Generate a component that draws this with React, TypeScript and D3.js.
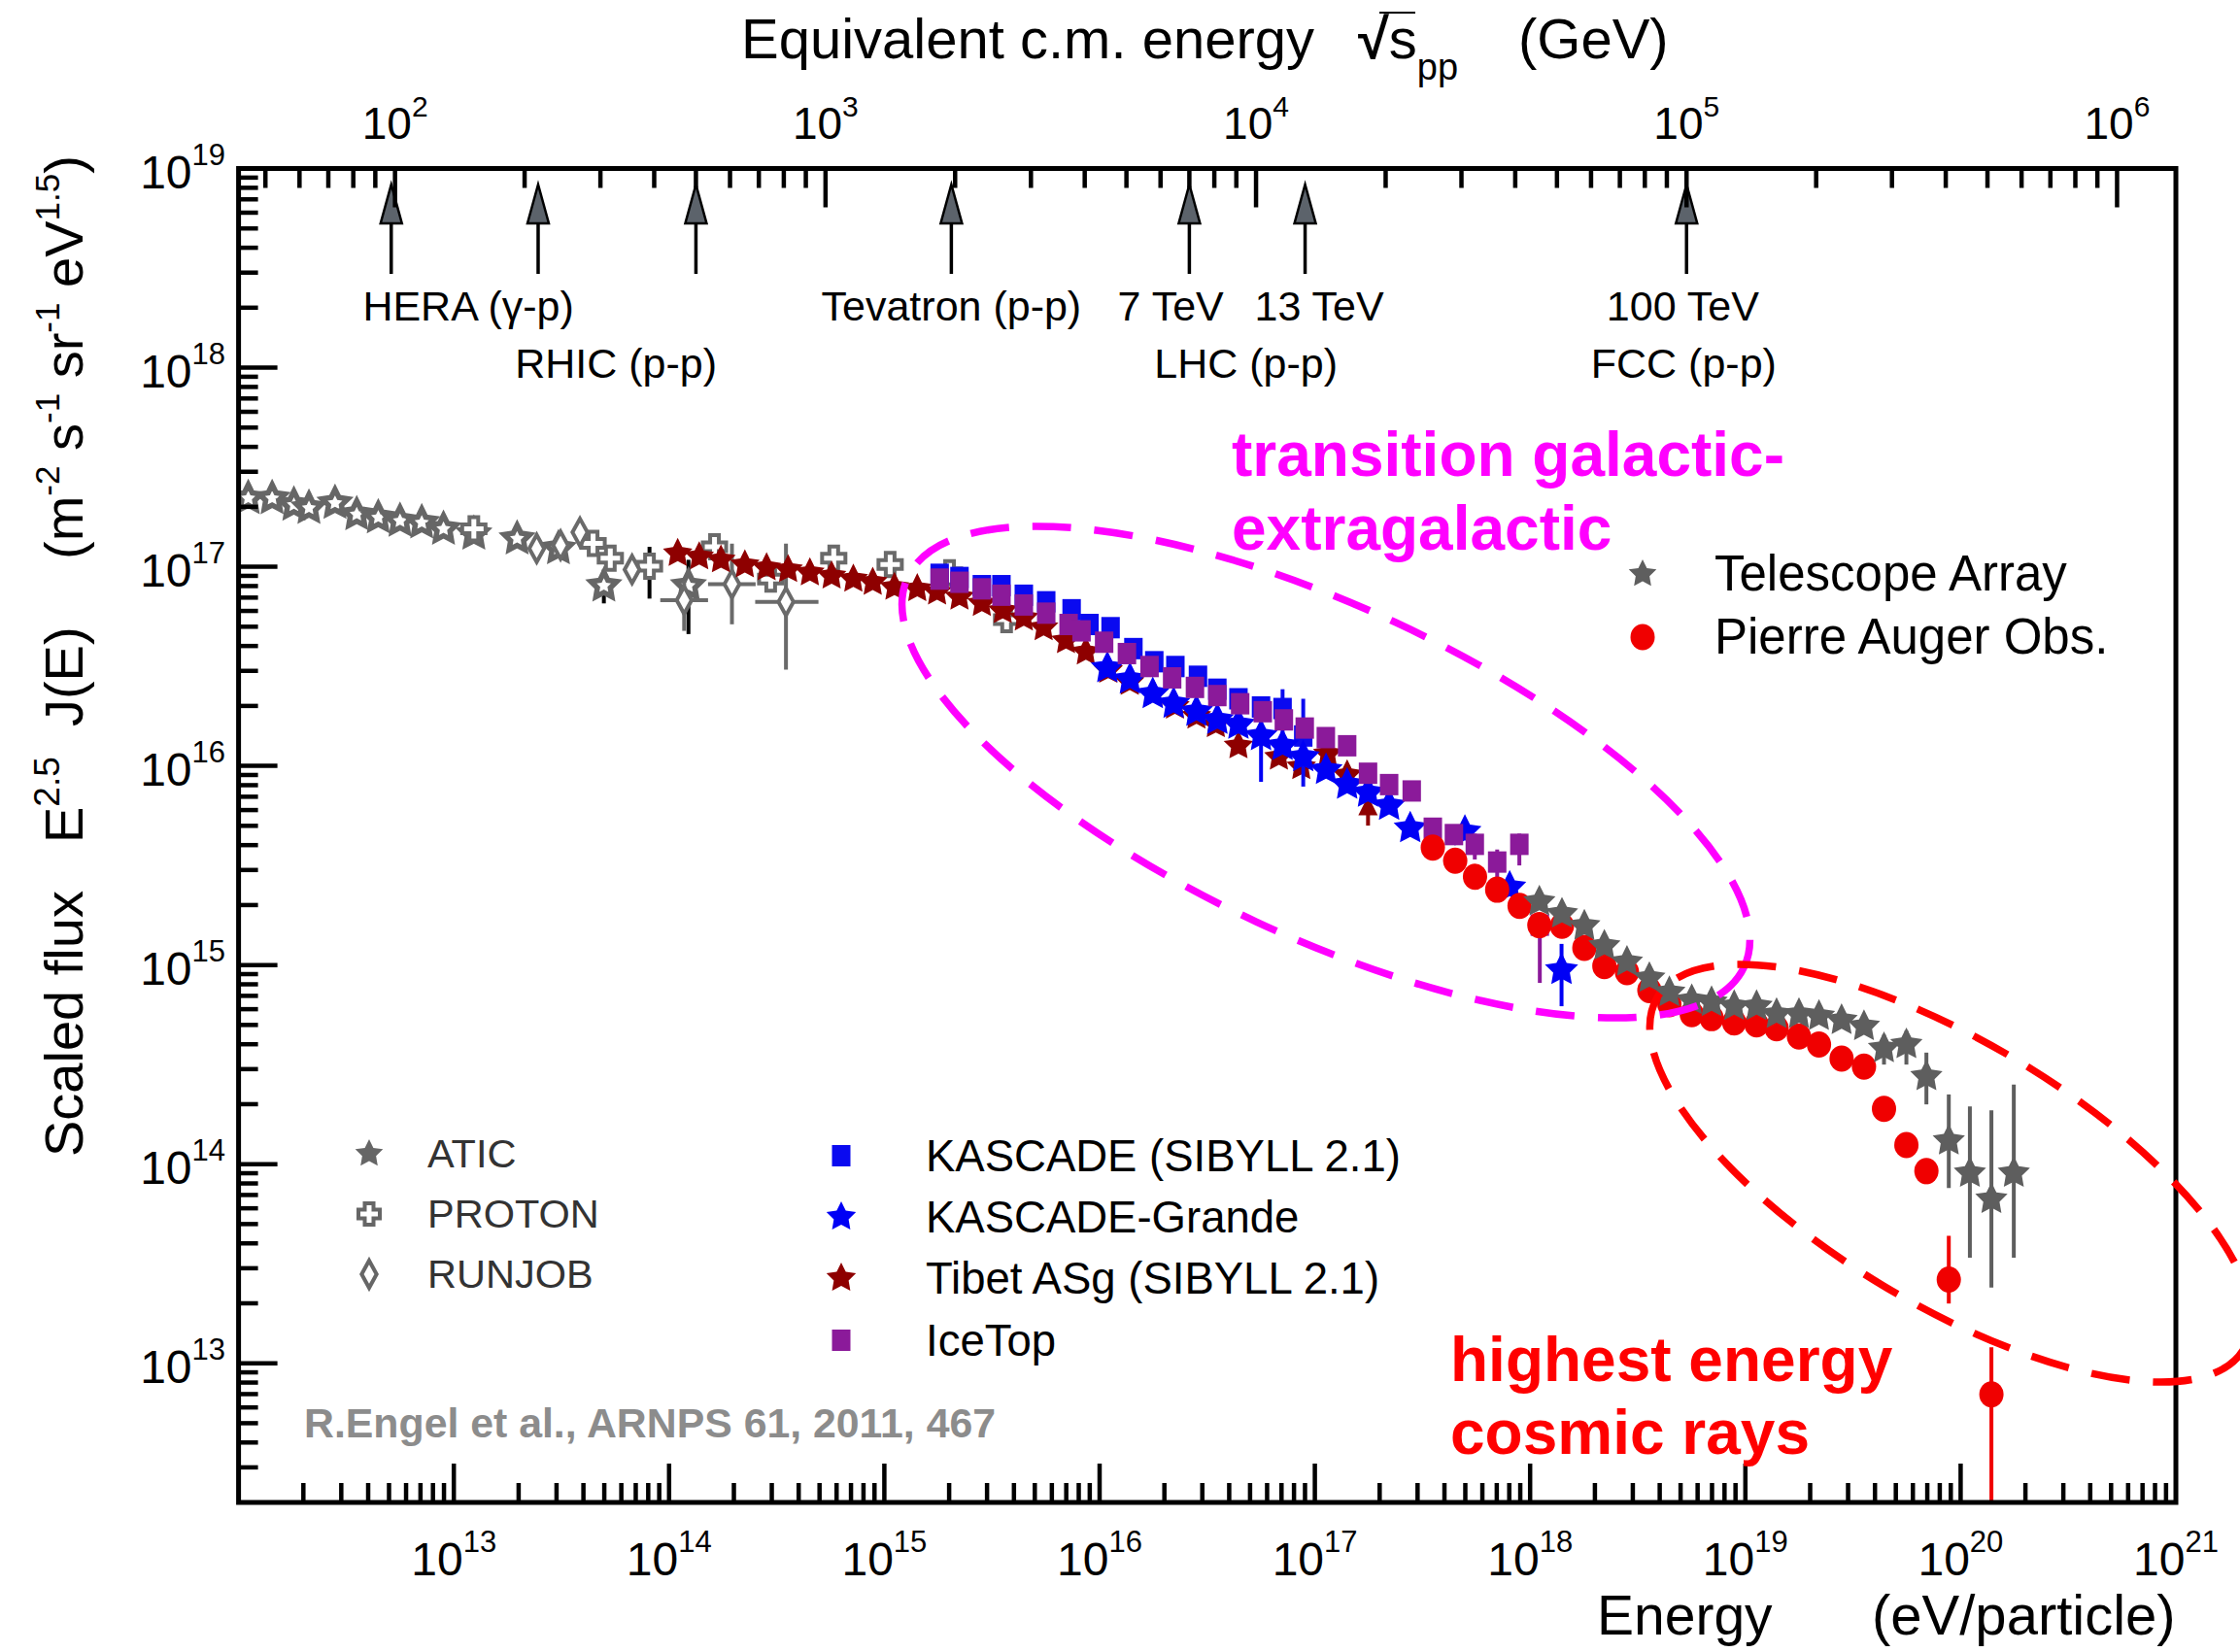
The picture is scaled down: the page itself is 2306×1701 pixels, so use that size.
import React from "react";
import * as d3 from "d3";

const W = 2306;
const H = 1701;
const PLOT = { left: 245.6, right: 2240, top: 173.5, bottom: 1547 };
const E_DOMAIN = [1e12, 1e21];
const F_DOMAIN = [2e12, 1e19];
const PROTON_MASS_GEV = 0.938;

// Rows: [log10 E(eV), log10 scaled flux, (opt) flux low, flux high, (opt) E low, E high]
const aticData = [
  [12.045, 17.344], [12.156, 17.344], [12.257, 17.311], [12.327, 17.295], [12.448, 17.32],
  [12.549, 17.263], [12.649, 17.247], [12.75, 17.23], [12.851, 17.222], [12.952, 17.19],
  [13.093, 17.165], [13.294, 17.141], [13.486, 17.092], [13.697, 16.905, 16.816, 16.986],
  [14.09, 16.905, 16.662, 17.035],
];
const protonData = [
  [13.093, 17.19], [13.647, 17.117], [13.727, 17.043], [13.909, 17.003, 16.84, 17.1],
  [14.211, 17.1], [14.472, 16.938], [14.765, 17.043], [15.027, 17.011], [15.303, 16.97], [15.568, 16.735],
];
const runjobData = [
  [13.385, 17.092], [13.496, 17.108], [13.586, 17.173], [13.828, 16.986],
  [14.07, 16.832, 16.678, 16.93, 13.959, 14.181],
  [14.292, 16.913, 16.711, 17.116, 14.181, 14.402],
  [14.543, 16.824, 16.483, 17.116, 14.4, 14.694],
];
const tibetData = [
  [14.04, 17.067], [14.14, 17.05], [14.241, 17.035], [14.352, 17.01], [14.453, 16.995], [14.553, 16.986],
  [14.654, 16.97], [14.755, 16.954], [14.856, 16.938], [14.946, 16.922], [15.047, 16.897], [15.153, 16.89],
  [15.245, 16.873], [15.349, 16.848], [15.453, 16.816], [15.55, 16.78], [15.648, 16.743], [15.74, 16.694],
  [15.844, 16.629], [15.936, 16.572], [16.04, 16.48], [16.14, 16.42], [16.25, 16.36], [16.35, 16.3],
  [16.45, 16.25], [16.54, 16.207], [16.645, 16.101], [16.833, 16.044], [16.937, 15.996], [17.06, 16.06],
  [17.15, 15.955],
];
const tibetLimits = [[17.247, 15.7, 15.82]];
const kascadeData = [
  [15.257, 16.962], [15.349, 16.946], [15.453, 16.905], [15.544, 16.905], [15.648, 16.857], [15.752, 16.824],
  [15.87, 16.784], [15.953, 16.71], [16.051, 16.694], [16.157, 16.589, 16.55, 16.63], [16.254, 16.523],
  [16.352, 16.499], [16.457, 16.45, 16.42, 16.5], [16.547, 16.385], [16.645, 16.337], [16.75, 16.296],
  [16.85, 16.288, 16.16, 16.385], [16.946, 16.15, 15.896, 16.337],
];
const kgData = [
  [16.036, 16.491], [16.141, 16.434], [16.247, 16.361], [16.344, 16.312], [16.45, 16.272], [16.547, 16.231],
  [16.645, 16.207], [16.75, 16.15, 15.92, 16.22], [16.85, 16.101], [16.946, 16.044], [17.052, 15.98],
  [17.15, 15.906], [17.247, 15.865], [17.345, 15.8], [17.443, 15.687], [17.697, 15.67], [17.905, 15.39],
  [18.146, 14.975, 14.793, 15.106],
];
const icetopData = [
  [15.257, 16.938], [15.349, 16.922], [15.453, 16.889], [15.544, 16.857], [15.648, 16.808], [15.752, 16.767],
  [15.856, 16.71], [15.916, 16.678], [16.021, 16.621], [16.127, 16.564], [16.232, 16.499], [16.337, 16.442],
  [16.443, 16.394], [16.547, 16.353], [16.653, 16.312], [16.758, 16.272], [16.856, 16.231], [16.953, 16.19],
  [17.051, 16.142], [17.15, 16.101], [17.247, 15.963], [17.345, 15.906], [17.45, 15.874], [17.548, 15.687],
  [17.646, 15.655], [17.743, 15.606, 15.53, 15.66], [17.847, 15.517, 15.44, 15.58],
  [17.95, 15.606, 15.5, 15.66], [18.045, 15.2, 14.91, 15.25],
];
const augerData = [
  [17.548, 15.59], [17.652, 15.524], [17.744, 15.443], [17.847, 15.378], [17.951, 15.297], [18.043, 15.2],
  [18.148, 15.197], [18.252, 15.086], [18.345, 14.995], [18.45, 14.964], [18.554, 14.874], [18.647, 14.803],
  [18.751, 14.753], [18.843, 14.733], [18.948, 14.712], [19.052, 14.702], [19.145, 14.682], [19.249, 14.641],
  [19.342, 14.601], [19.447, 14.53], [19.551, 14.49], [19.644, 14.278], [19.748, 14.096],
  [19.841, 13.965, 13.9, 14.02], [19.945, 13.42, 13.3, 13.64], [20.143, 12.844, 11.5, 13.08],
];
const taData = [
  [18.043, 15.318], [18.148, 15.257], [18.252, 15.197], [18.345, 15.096], [18.45, 15.015], [18.554, 14.934],
  [18.647, 14.863], [18.751, 14.823], [18.843, 14.813], [18.948, 14.793], [19.052, 14.793], [19.145, 14.753],
  [19.249, 14.753], [19.342, 14.743], [19.447, 14.722], [19.551, 14.692],
  [19.644, 14.581, 14.5, 14.65], [19.748, 14.601, 14.5, 14.67], [19.841, 14.44, 14.3, 14.56],
  [19.945, 14.117, 13.88, 14.35], [20.043, 13.955, 13.53, 14.29], [20.143, 13.824, 13.38, 14.27],
  [20.247, 13.955, 13.53, 14.4],
];

// Collider arrows (sqrt(s) in GeV)
const colliderSqrtS = [98, 215, 500, 1960, 7000, 13000, 100000];
const colliderLabels = ["HERA (\u03b3-p)", "RHIC (p-p)", "Tevatron (p-p)", "7 TeV", "13 TeV", "LHC (p-p)", "100 TeV", "FCC (p-p)"];
const colliderLabelSqrtS = [148, 326, 1960, 6336, 14016, 9476, 98000, 98500];
const colliderLabelRow = [0, 1, 0, 0, 0, 1, 0, 1];

const xTickExponents = [13, 14, 15, 16, 17, 18, 19, 20, 21];
const yTickExponents = [13, 14, 15, 16, 17, 18, 19];
const topTickExponents = [2, 3, 4, 5, 6];

const legendLeft = ["ATIC", "PROTON", "RUNJOB"];
const legendMid = ["KASCADE (SIBYLL 2.1)", "KASCADE-Grande", "Tibet ASg (SIBYLL 2.1)", "IceTop"];
const legendRight = ["Telescope Array", "Pierre Auger Obs."];

const FONT = "'Liberation Sans', Arial, Helvetica, sans-serif";
const GRAY = "#666666";
const C = {
  atic: "#666666",
  proton: "#6a6a6a",
  runjob: "#6a6a6a",
  tibet: "#8e0000",
  kascade: "#0a0af0",
  kg: "#0000f5",
  icetop: "#8b1a9a",
  auger: "#f00000",
  ta: "#5e5e5e",
};

const sqrtS = (eV: number) => Math.sqrt((2 * PROTON_MASS_GEV * eV) / 1e9);

const x = d3.scaleLog().domain(E_DOMAIN).range([PLOT.left, PLOT.right]);
const y = d3.scaleLog().domain(F_DOMAIN).range([PLOT.bottom, PLOT.top]);
const xTop = d3.scaleLog().domain([sqrtS(E_DOMAIN[0]), sqrtS(E_DOMAIN[1])]).range([PLOT.left, PLOT.right]);

const px = (l: number) => x(Math.pow(10, l));
const py = (l: number) => y(Math.pow(10, l));

function starPath(R: number, ratio = 0.5) {
  const pts: string[] = [];
  for (let i = 0; i < 10; i++) {
    const a = -Math.PI / 2 + (i * Math.PI) / 5;
    const r = i % 2 ? R * ratio : R;
    pts.push(`${(r * Math.cos(a)).toFixed(2)},${(r * Math.sin(a)).toFixed(2)}`);
  }
  return "M" + pts.join("L") + "Z";
}
function crossPath(L: number, w: number) {
  return `M${-w},${-L}L${w},${-L}L${w},${-w}L${L},${-w}L${L},${w}L${w},${w}L${w},${L}L${-w},${L}L${-w},${w}L${-L},${w}L${-L},${-w}L${-w},${-w}Z`;
}
function diamondPath(hw: number, hh: number) {
  return `M0,${-hh}L${hw},0L0,${hh}L${-hw},0Z`;
}

type Shape = "star" | "hstar" | "cross" | "diamond" | "square" | "circle";

function Marker({ shape, color, size = 15 }: { shape: Shape; color: string; size?: number }) {
  if (shape === "star") return <path d={starPath(size)} fill={color} />;
  if (shape === "hstar")
    return <path d={starPath(size - 2, 0.5)} fill="#ffffff" stroke={color} strokeWidth={5.5} strokeLinejoin="miter" />;
  if (shape === "cross") return <path d={crossPath(size - 3, 4.5)} fill="#ffffff" stroke={color} strokeWidth={4} />;
  if (shape === "diamond") return <path d={diamondPath(size * 0.55, size)} fill="#ffffff" stroke={color} strokeWidth={4} />;
  if (shape === "square") return <rect x={-9.5} y={-11} width={19} height={22} fill={color} />;
  return <ellipse cx={0} cy={0} rx={12.5} ry={13.5} fill={color} />;
}

function Series({ data, shape, color, errColor, size }: { data: number[][]; shape: Shape; color: string; errColor?: string; size?: number }) {
  return (
    <g>
      {data.map((r, i) => {
        const cx = px(r[0]);
        const cy = py(r[1]);
        return (
          <g key={i}>
            {r.length >= 4 && (
              <line x1={cx} x2={cx} y1={py(r[2])} y2={py(r[3])} stroke={errColor || color} strokeWidth={4} />
            )}
            {r.length >= 6 && (
              <line x1={px(r[4])} x2={px(r[5])} y1={cy} y2={cy} stroke={errColor || color} strokeWidth={4} />
            )}
            <g transform={`translate(${cx},${cy})`}>
              <Marker shape={shape} color={color} size={size} />
            </g>
          </g>
        );
      })}
    </g>
  );
}

function Pow({ x: tx, y: ty, exp, anchor = "middle", fs = 48, efs = 31 }: any) {
  return (
    <text x={tx} y={ty} textAnchor={anchor} fontSize={fs} fontFamily={FONT} fill="#000">
      10
      <tspan dy={-fs * 0.5} fontSize={efs}>
        {exp}
      </tspan>
    </text>
  );
}

export default function App() {
  const xMinor = x.ticks().filter((t) => t > E_DOMAIN[0] && t < E_DOMAIN[1]);
  const yMinor = y.ticks().filter((t) => t > F_DOMAIN[0] && t < F_DOMAIN[1]);
  const topMinor = xTop.ticks().filter((t) => xTop(t) > PLOT.left + 1 && xTop(t) < PLOT.right - 1);
  const isMajor = (t: number) => Math.abs(Math.log10(t) - Math.round(Math.log10(t))) < 1e-6;
  const MAJ = 40;
  const MIN = 20;
  const TW = 4.5;

  const arrowTipY = 190;
  const arrowBaseY = 230;
  const arrowBottomY = 282;

  return (
    <svg width={W} height={H} viewBox={`0 0 ${W} ${H}`} style={{ position: "absolute", left: 0, top: 0, background: "#fff" }}>
      <defs>
        <clipPath id="plotClip">
          <rect x={PLOT.left} y={PLOT.top} width={PLOT.right - PLOT.left} height={PLOT.bottom - PLOT.top} />
        </clipPath>
      </defs>
      <rect x={0} y={0} width={W} height={H} fill="#fff" />

      {/* top title */}
      <text x={763} y={60} fontSize={58} fontFamily={FONT} fill="#000">
        Equivalent c.m. energy
      </text>
      <line x1={1420} x2={1457} y1={13} y2={13} stroke="#000" strokeWidth={2} />
      <text x={1398} y={60} fontSize={58} fontFamily={FONT} fill="#000">
        <tspan fontWeight="bold">{"\u221a"}</tspan>
        <tspan>s</tspan>
        <tspan dy={22} fontSize={38}>
          pp
        </tspan>
      </text>
      <text x={1563} y={60} fontSize={58} fontFamily={FONT} fill="#000">
        (GeV)
      </text>

      {/* top tick labels */}
      {topTickExponents.map((e) => (
        <Pow key={e} x={xTop(Math.pow(10, e))} y={143} exp={e} fs={46} efs={30} />
      ))}

      {/* left tick labels */}
      {yTickExponents.map((e) => (
        <Pow key={e} x={232} y={py(e) + 20} exp={e} anchor="end" fs={48} efs={31} />
      ))}

      {/* bottom tick labels */}
      {xTickExponents.map((e) => (
        <Pow key={e} x={px(e)} y={1622} exp={e} fs={48} efs={31} />
      ))}

      {/* y title */}
      <g transform="translate(85,1191) rotate(-90)">
        <text x={0} y={0} fontSize={56} fontFamily={FONT} fill="#000">
          Scaled flux
        </text>
      </g>
      <g transform="translate(85,868) rotate(-90)">
        <text x={0} y={0} fontSize={56} fontFamily={FONT} fill="#000">
          E<tspan dy={-24} fontSize={37}>2.5</tspan>
          <tspan dy={24}>{"\u00a0\u00a0J(E)"}</tspan>
        </text>
      </g>
      <g transform="translate(85,576) rotate(-90)">
        <text x={0} y={0} fontSize={56} fontFamily={FONT} fill="#000">
          (m<tspan dy={-24} fontSize={35}>-2</tspan>
          <tspan dy={24}>{"\u00a0s"}</tspan>
          <tspan dy={-24} fontSize={35}>-1</tspan>
          <tspan dy={24}>{"\u00a0sr"}</tspan>
          <tspan dy={-24} fontSize={35}>-1</tspan>
          <tspan dy={24}>{"\u00a0eV"}</tspan>
          <tspan dy={-24} fontSize={35}>1.5</tspan>
          <tspan dy={24}>)</tspan>
        </text>
      </g>

      {/* bottom title */}
      <text x={1644} y={1683} fontSize={57} fontFamily={FONT} fill="#000">
        Energy
      </text>
      <text x={1927} y={1683} fontSize={58} fontFamily={FONT} fill="#000">
        (eV/particle)
      </text>

      {/* data */}
      <g clipPath="url(#plotClip)">
        <Series data={aticData} shape="hstar" color={C.atic} errColor="#000" size={16} />
        <Series data={protonData} shape="cross" color={C.proton} errColor="#000" size={15} />
        <Series data={runjobData} shape="diamond" color={C.runjob} size={14} />
        <Series data={tibetData} shape="star" color={C.tibet} size={16} />
        {tibetLimits.map((r, i) => {
          const cx = px(r[0]);
          const top = py(r[2]);
          return (
            <g key={i}>
              <line x1={cx} x2={cx} y1={py(r[1])} y2={top + 8} stroke={C.tibet} strokeWidth={4} />
              <path d={`M${cx - 10},${top + 14}L${cx},${top - 6}L${cx + 10},${top + 14}Z`} fill={C.tibet} />
            </g>
          );
        })}
        <Series data={kascadeData} shape="square" color={C.kascade} />
        <Series data={kgData} shape="star" color={C.kg} size={18} />
        <Series data={icetopData} shape="square" color={C.icetop} />
        <Series data={augerData} shape="circle" color={C.auger} />
        <Series data={taData} shape="star" color={C.ta} size={17.5} />
      </g>

      {/* collider arrows */}
      {colliderSqrtS.map((s, i) => {
        const ax = xTop(s);
        return (
          <g key={i}>
            <line x1={ax} x2={ax} y1={arrowBaseY} y2={arrowBottomY} stroke="#000" strokeWidth={3.5} />
            <path
              d={`M${ax - 11},${arrowBaseY}L${ax},${arrowTipY}L${ax + 11},${arrowBaseY}Z`}
              fill="#5c636b"
              stroke="#000"
              strokeWidth={2.5}
              strokeLinejoin="miter"
            />
          </g>
        );
      })}
      {colliderLabels.map((t, i) => (
        <text
          key={t}
          x={xTop(colliderLabelSqrtS[i])}
          y={colliderLabelRow[i] ? 389 : 330}
          textAnchor="middle"
          fontSize={43}
          fontFamily={FONT}
          fill="#000"
        >
          {t}
        </text>
      ))}

      {/* frame and ticks */}
      <g stroke="#000" strokeWidth={TW} fill="none">
        {xMinor.map((t, i) => (
          <line key={"b" + i} x1={x(t)} x2={x(t)} y1={PLOT.bottom} y2={PLOT.bottom - (isMajor(t) ? MAJ : MIN)} />
        ))}
        {yMinor.map((t, i) => (
          <line key={"l" + i} x1={PLOT.left} x2={PLOT.left + (isMajor(t) ? MAJ : MIN)} y1={y(t)} y2={y(t)} />
        ))}
        {topMinor.map((t, i) => (
          <line key={"t" + i} x1={xTop(t)} x2={xTop(t)} y1={PLOT.top} y2={PLOT.top + (isMajor(t) ? MAJ : MIN)} />
        ))}
        <rect x={PLOT.left} y={PLOT.top} width={PLOT.right - PLOT.left} height={PLOT.bottom - PLOT.top} strokeWidth={5} />
      </g>

      {/* legends */}
      {legendLeft.map((t, i) => {
        const cy = [1188, 1250, 1312][i];
        const shape: Shape = ["star", "cross", "diamond"][i] as Shape;
        return (
          <g key={t}>
            <g transform={`translate(380,${cy})`}>
              <Marker shape={shape} color={GRAY} size={i === 0 ? 15 : 14} />
            </g>
            <text x={440} y={cy + 14} fontSize={41.5} fontFamily={FONT} fill="#333">
              {t}
            </text>
          </g>
        );
      })}
      {legendMid.map((t, i) => {
        const cy = [1190, 1253, 1316, 1380][i];
        const shape: Shape = ["square", "star", "star", "square"][i] as Shape;
        const col = [C.kascade, C.kg, C.tibet, C.icetop][i];
        return (
          <g key={t}>
            <g transform={`translate(866,${cy})`}>
              <Marker shape={shape} color={col} size={16} />
            </g>
            <text x={953} y={cy + 16} fontSize={45.5} fontFamily={FONT} fill="#000">
              {t}
            </text>
          </g>
        );
      })}
      {legendRight.map((t, i) => {
        const cy = [591, 656][i];
        const shape: Shape = ["star", "circle"][i] as Shape;
        const col = [C.ta, C.auger][i];
        return (
          <g key={t}>
            <g transform={`translate(1691,${cy})`}>
              <Marker shape={shape} color={col} size={15} />
            </g>
            <text x={1765} y={cy + 17} fontSize={51} fontFamily={FONT} fill="#000">
              {t}
            </text>
          </g>
        );
      })}

      {/* annotations */}
      <text x={1268} y={490} fontSize={64} fontWeight="bold" fontFamily={FONT} fill="#ff00ff">
        transition galactic-
      </text>
      <text x={1268} y={566} fontSize={64} fontWeight="bold" fontFamily={FONT} fill="#ff00ff">
        extragalactic
      </text>
      <text x={1493} y={1422} fontSize={64} fontWeight="bold" fontFamily={FONT} fill="#ff0000">
        highest energy
      </text>
      <text x={1493} y={1497} fontSize={64} fontWeight="bold" fontFamily={FONT} fill="#ff0000">
        cosmic rays
      </text>
      <text x={313} y={1480} fontSize={42.8} fontWeight="bold" fontFamily={FONT} fill="#8c8c8c">
        R.Engel et al., ARNPS 61, 2011, 467
      </text>

      {/* dashed ellipses */}
      <ellipse
        cx={1365}
        cy={795}
        rx={475}
        ry={170}
        transform="rotate(25 1365 795)"
        fill="none"
        stroke="#ff00ff"
        strokeWidth={7.5}
        strokeDasharray="40 24"
      />
      <ellipse
        cx={2008}
        cy={1208}
        rx={352}
        ry={135}
        transform="rotate(31 2008 1208)"
        fill="none"
        stroke="#ff0000"
        strokeWidth={7.5}
        strokeDasharray="40 24"
      />
    </svg>
  );
}
